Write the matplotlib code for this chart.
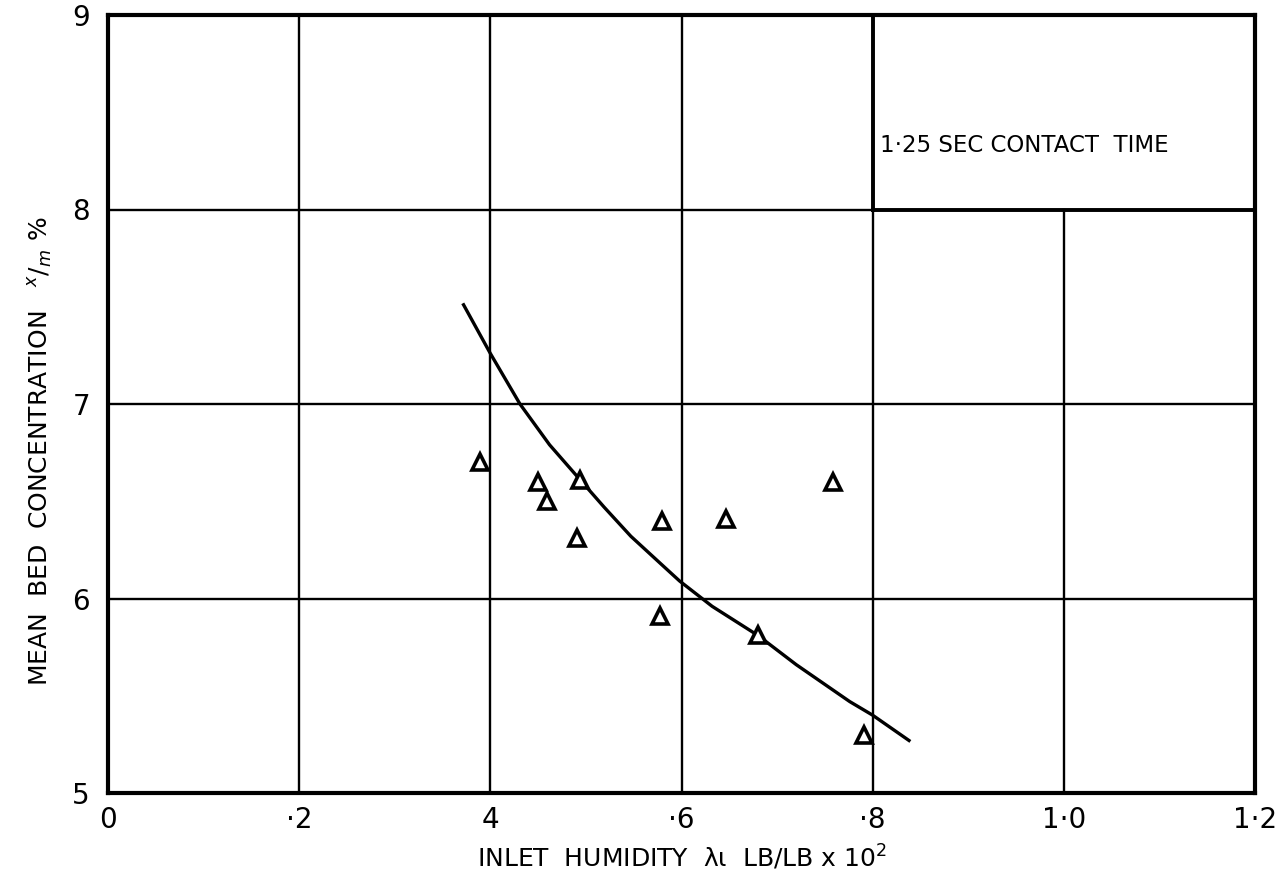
import numpy as np
import matplotlib.pyplot as plt

# data
humidity = [0.389, 0.450, 0.459, 0.494, 0.491, 0.580, 0.577, 0.647, 0.759, 0.680, 0.791]
concentration = [6.70, 6.60, 6.50, 6.61, 6.31, 6.40, 5.91, 6.41, 6.60, 5.81, 5.30]

# hand drawn trend curve, traced point by point
curve_x = [0.372, 0.400, 0.431, 0.462, 0.494, 0.519, 0.547, 0.578, 0.598,
           0.632, 0.680, 0.720, 0.776, 0.800, 0.838]
curve_y = [7.51, 7.26, 7.00, 6.79, 6.61, 6.47, 6.32, 6.18, 6.09,
           5.96, 5.81, 5.66, 5.47, 5.40, 5.27]

x_ticks = [0, 0.2, 0.4, 0.6, 0.8, 1.0, 1.2]
x_labels = ['0', '·2', '4', '·6', '·8', '1·0', '1·2']
y_ticks = [5, 6, 7, 8, 9]
y_labels = ['5', '6', '7', '8', '9']

plt.rcParams['font.family'] = ['DejaVu Sans']

fig = plt.figure(figsize=(12.86, 8.74), dpi=100)
ax = fig.add_axes([108 / 1286, 81 / 874, 1147 / 1286, 778 / 874])
ax.set_xlim(0, 1.2)
ax.set_ylim(5, 9)

# grid (the 1.0 line stops under the caption box)
for xv in x_ticks[1:-1]:
    top = 8 if xv == 1.0 else 9
    ax.plot([xv, xv], [5, top], color='black', lw=1.7, zorder=1)
for yv in y_ticks[1:-1]:
    ax.plot([0, 1.2], [yv, yv], color='black', lw=1.7, zorder=1)

# caption box edges
ax.plot([0.8, 0.8], [8, 9], color='black', lw=2.8, zorder=2)
ax.plot([0.8, 1.2], [8, 8], color='black', lw=2.8, zorder=2)
ax.text(0.808, 8.33, '1·25 SEC CONTACT  TIME', fontsize=16.5, va='center', ha='left')

ax.plot(curve_x, curve_y, color='black', lw=2.4, zorder=3)
ax.plot(humidity, concentration, linestyle='none', marker='^', markersize=12,
        markerfacecolor='white', markeredgecolor='black', markeredgewidth=2.6, zorder=4)

for s in ax.spines.values():
    s.set_linewidth(3.0)

ax.set_xticks(x_ticks)
ax.set_xticklabels(x_labels, fontsize=20)
ax.set_yticks(y_ticks)
ax.set_yticklabels(y_labels, fontsize=20)
ax.tick_params(axis='x', length=0, pad=9)
ax.tick_params(axis='y', length=0, pad=13)

ax.set_xlabel('INLET  HUMIDITY  λι  LB/LB x 10$^2$', fontsize=18)
ax.xaxis.set_label_coords((682 - 108) / 1147, -(857 - 793) / 778)
ax.xaxis.label.set_va('center')
ax.set_ylabel('MEAN  BED  CONCENTRATION   $^{x}/_{m}$ %', fontsize=18)
ax.yaxis.set_label_coords(-(108 - 41) / 1147, (793 - 451) / 778)
ax.yaxis.label.set_va('center')

fig.savefig('out.png', dpi=100)
